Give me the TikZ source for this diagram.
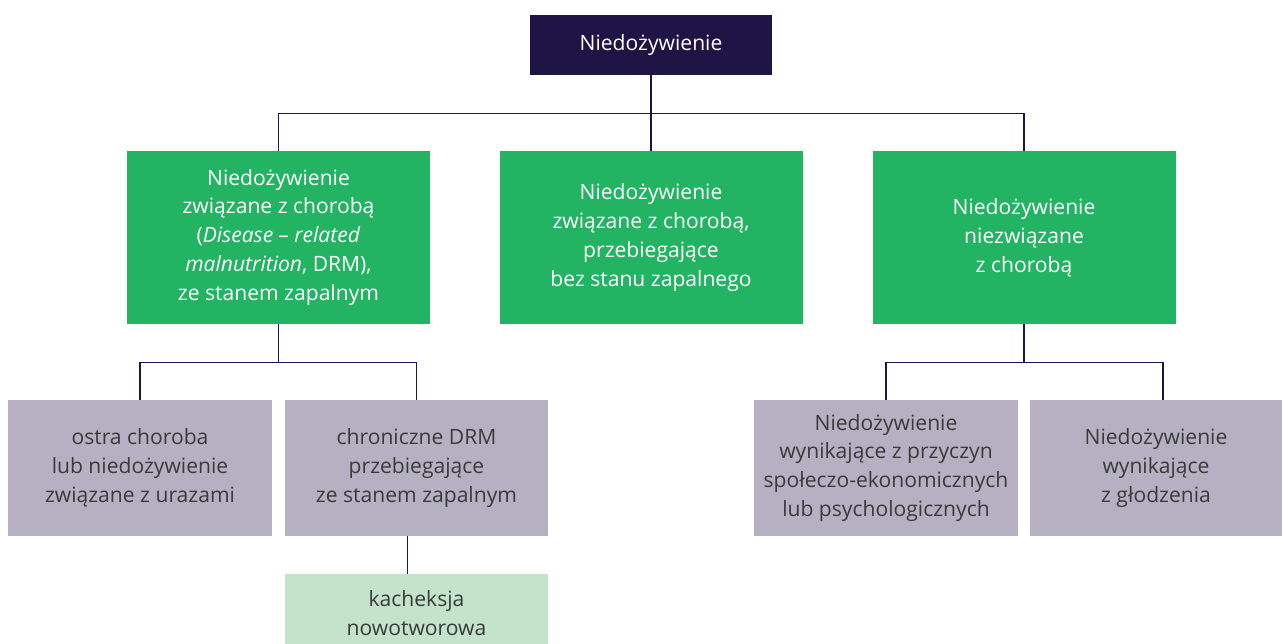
\documentclass[tikz,border=0pt]{standalone}
\usepackage{fontspec}
\setmainfont{Open Sans}
\usetikzlibrary{positioning, calc}
\definecolor{navy}{HTML}{1E1546}
\definecolor{leafgreen}{HTML}{22B463}
\definecolor{lilac}{HTML}{B5B1C3}
\definecolor{mint}{HTML}{C3E4CB}
\definecolor{inkgray}{HTML}{3A3A3A}
\newcommand{\boxfont}{\fontsize{12pt}{16.5pt}\selectfont}

\begin{document}
\begin{tikzpicture}[
  box/.style={rectangle, minimum height=3.46cm, minimum width=6.06cm, align=center,
              font=\boxfont, inner sep=2pt},
  root/.style={box, fill=navy, text=white, minimum width=4.84cm, minimum height=1.2cm},
  maingroup/.style={box, fill=leafgreen, text=white},
  subgroup/.style={box, fill=lilac, text=inkgray, minimum height=2.72cm, minimum width=5.28cm},
  leaf/.style={box, fill=mint, text=inkgray, minimum height=1.38cm, minimum width=5.26cm},
  link/.style={draw=navy, line width=0.75pt}
]
\useasboundingbox (0,0) rectangle (25.64,-12.86);

\node[root] (top) at (13.02,-0.9) {Niedożywienie};

\node[maingroup] (drm) at (5.57,-4.75) {Niedożywienie\\związane z chorobą\\(\textit{Disease – related}\\\textit{malnutrition}, DRM),\\ze stanem zapalnym};
\node[maingroup] (nozap) at (13.02,-4.75) {Niedożywienie\\związane z chorobą,\\przebiegające\\bez stanu zapalnego};
\node[maingroup] (nochor) at (20.48,-4.75) {Niedożywienie\\niezwiązane\\z chorobą};

\node[subgroup] (ostra) at (2.8,-9.36) {ostra choroba\\lub niedożywienie\\związane z urazami};
\node[subgroup, minimum width=5.26cm] (chron) at (8.33,-9.36) {chroniczne DRM\\przebiegające\\ze stanem zapalnym};
\node[subgroup] (socio) at (17.72,-9.36) {Niedożywienie\\wynikające z przyczyn\\społeczo-ekonomicznych\\lub psychologicznych};
\node[subgroup, minimum width=5.04cm] (glod) at (23.12,-9.36) {Niedożywienie\\wynikające\\z głodzenia};

\node[leaf, minimum height=1.58cm] (kach) at (8.33,-12.27) {kacheksja\\nowotworowa};

% first level
\draw[link] (top.south) -- ++(0,-0.76) coordinate (b1);
\draw[link] (drm.north) |- (b1) -| (nochor.north);
\draw[link] (b1) -- (nozap.north);

% second level
\draw[link] (drm.south) -- ++(0,-0.76) coordinate (b2);
\draw[link] (ostra.north) |- (b2) -| (chron.north);
\draw[link] (nochor.south) -- ++(0,-0.76) coordinate (b3);
\draw[link] (socio.north) |- (b3) -| ([xshift=0.14cm]glod.north);

% third level
\draw[link] ([xshift=-0.18cm]chron.south) -- ([xshift=-0.18cm]kach.north);
\end{tikzpicture}
\end{document}
